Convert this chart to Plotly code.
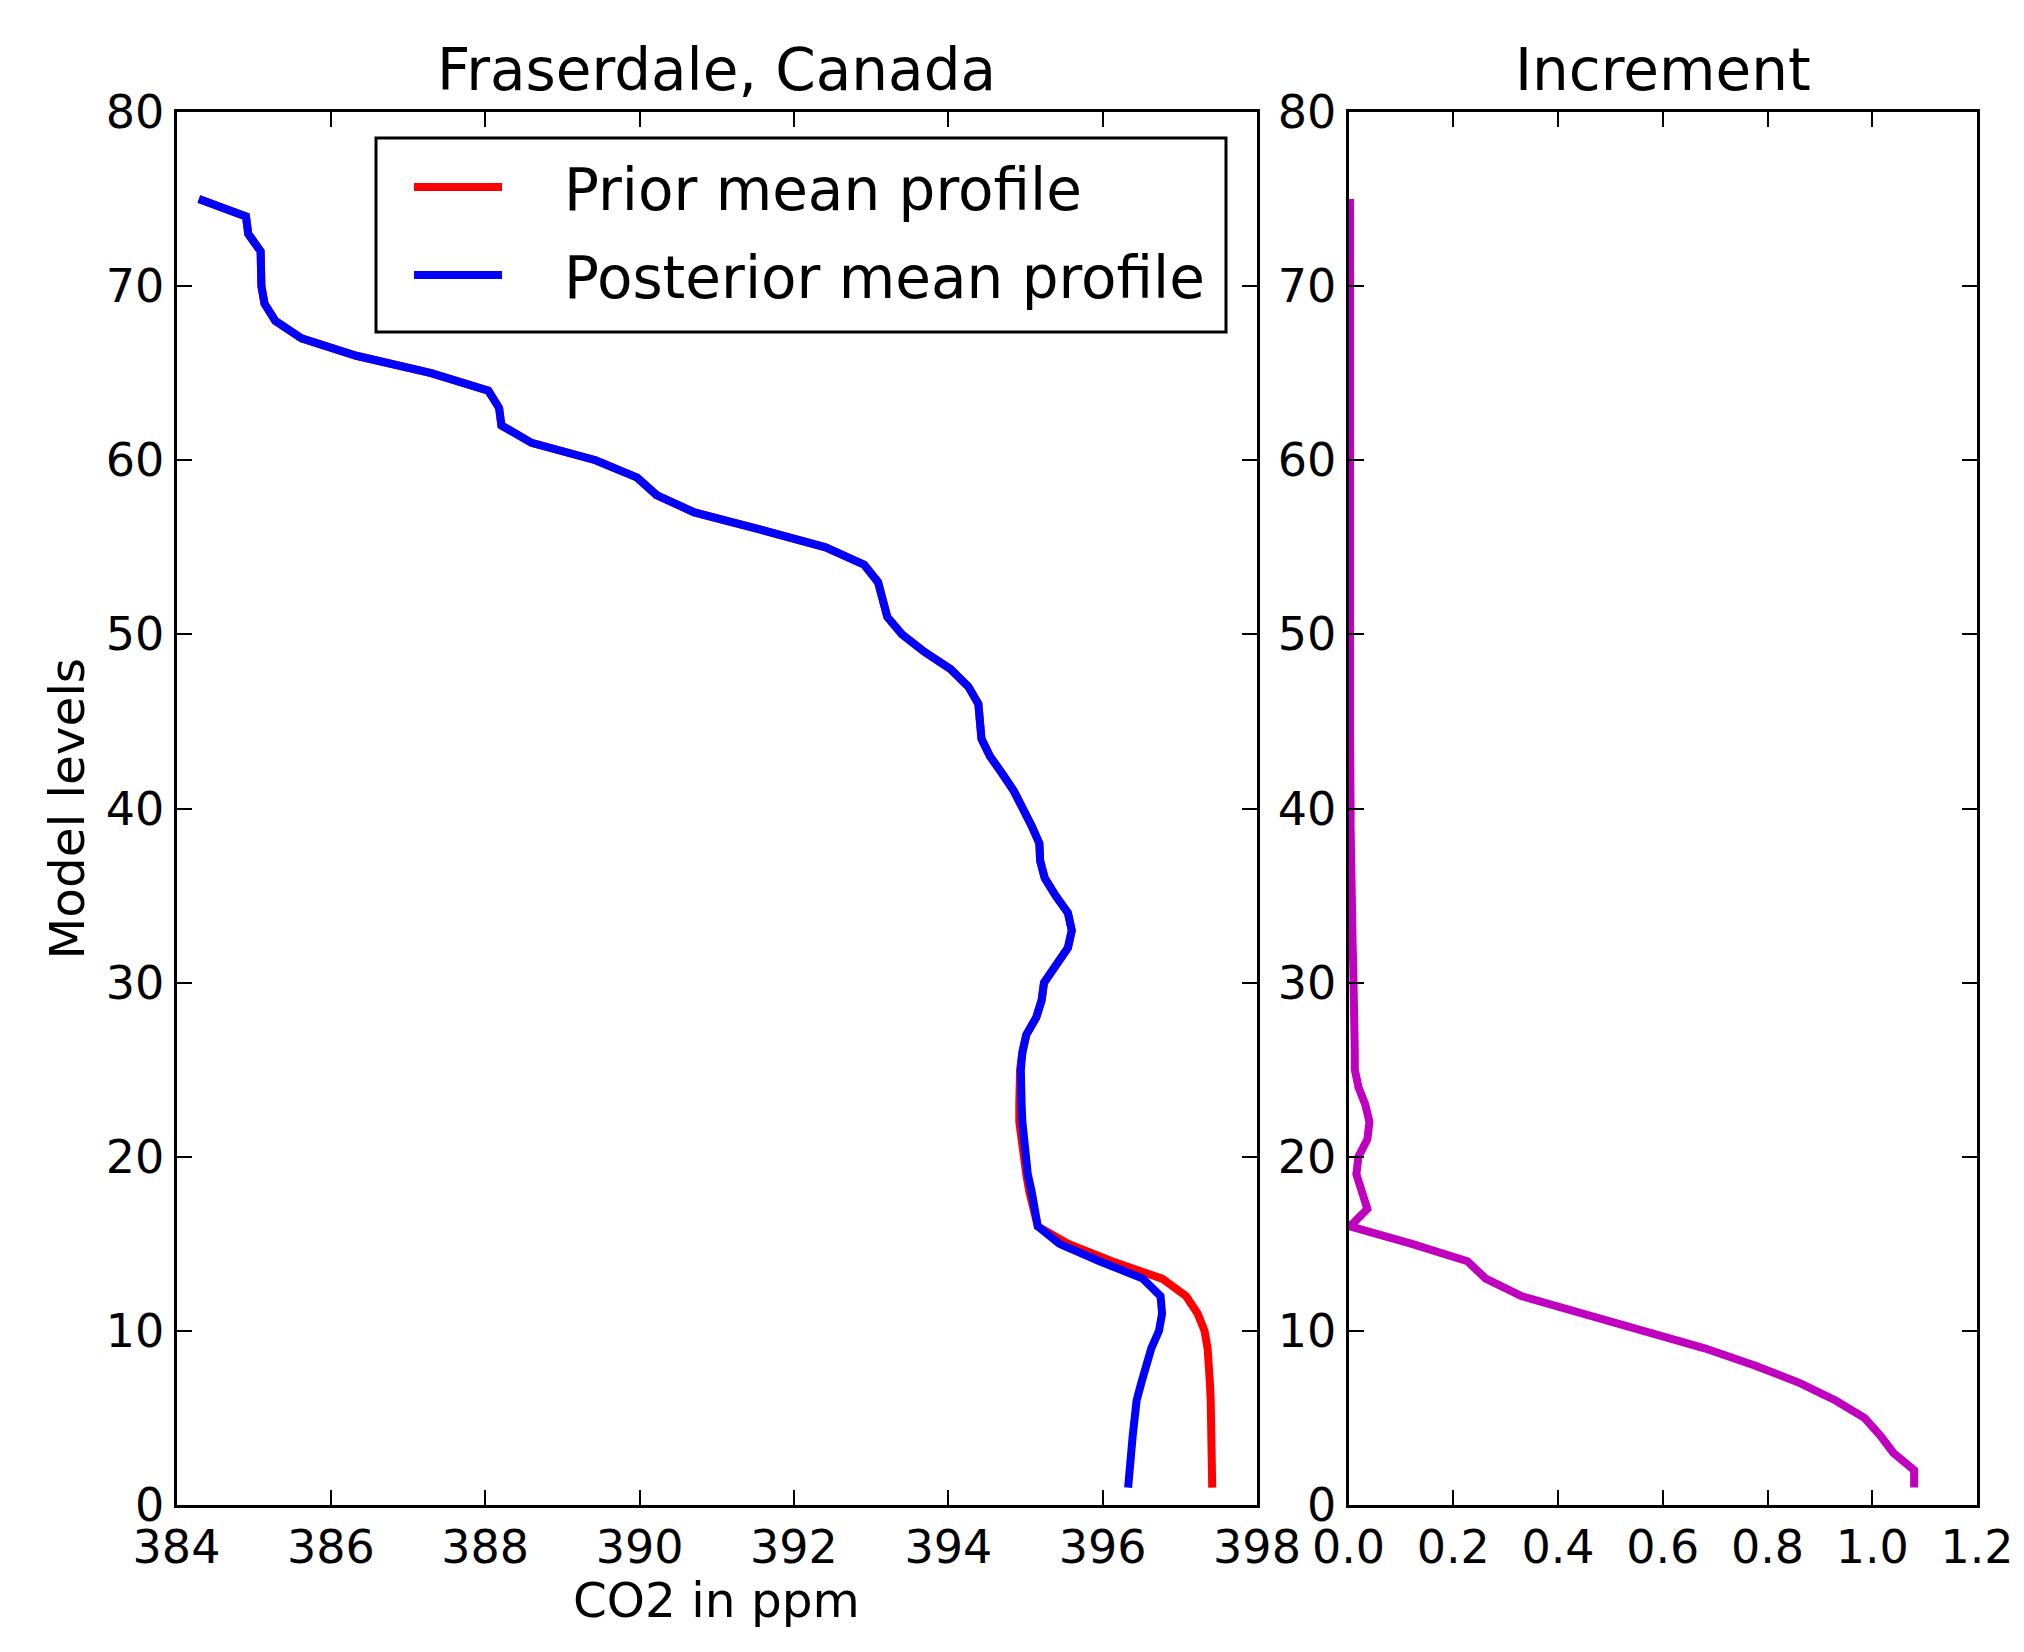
import plotly.graph_objects as go

FONT = "DejaVu Sans"

levels = [1, 2, 3, 4, 5, 6, 7, 8, 9, 10, 11, 12, 13, 14, 15, 16, 17, 18, 19, 20,
          21, 22, 23, 24, 25, 26, 27, 28, 29, 30, 31, 32, 33, 34, 35, 36, 37, 38, 39, 40,
          41, 42, 43, 44, 45, 46, 47, 48, 49, 50, 51, 52, 53, 54, 55, 56, 57, 58, 59, 60,
          61, 62, 63, 64, 65, 66, 67, 68, 69, 70, 71, 72, 73, 74, 75]

posterior = [396.33, 396.34, 396.37, 396.39, 396.41, 396.44, 396.50, 396.57, 396.63, 396.73,
             396.77, 396.75, 396.52, 395.96, 395.44, 395.16, 395.13, 395.08, 395.03, 395.00,
             394.97, 394.96, 394.95, 394.94, 394.94, 394.96, 395.01, 395.14, 395.21, 395.24,
             395.40, 395.55, 395.60, 395.55, 395.39, 395.25, 395.19, 395.18, 395.08, 394.97,
             394.85, 394.70, 394.54, 394.43, 394.40, 394.39, 394.26, 394.03, 393.69, 393.40,
             393.21, 393.14, 393.09, 392.91, 392.41, 391.58, 390.71, 390.22, 389.97, 389.43,
             388.60, 388.21, 388.18, 388.04, 387.30, 386.33, 385.62, 385.28, 385.14, 385.10,
             385.10, 385.09, 384.93, 384.90, 384.29]

prior = [397.42, 397.42, 397.41, 397.41, 397.40, 397.40, 397.39, 397.38, 397.36, 397.32,
         397.23, 397.08, 396.77, 396.12, 395.55, 395.16, 395.10, 395.05, 395.01, 394.98,
         394.93, 394.92, 394.92, 394.92, 394.93, 394.96, 395.01, 395.14, 395.21, 395.24,
         395.40, 395.55, 395.60, 395.55, 395.39, 395.25, 395.19, 395.18, 395.08, 394.97,
         394.85, 394.70, 394.54, 394.43, 394.40, 394.39, 394.26, 394.03, 393.69, 393.40,
         393.21, 393.14, 393.09, 392.91, 392.41, 391.58, 390.71, 390.22, 389.97, 389.43,
         388.60, 388.21, 388.18, 388.04, 387.30, 386.33, 385.62, 385.28, 385.14, 385.10,
         385.10, 385.09, 384.93, 384.90, 384.29]

increment = [1.080, 1.080, 1.040, 1.015, 0.985, 0.930, 0.862, 0.777, 0.680, 0.565,
             0.445, 0.330, 0.262, 0.227, 0.121, 0.003, 0.036, 0.026, 0.015, 0.019,
             0.036, 0.040, 0.032, 0.019, 0.012, 0.012, 0.012, 0.012, 0.011, 0.010,
             0.009, 0.008, 0.007, 0.006, 0.005, 0.004, 0.004, 0.004, 0.004, 0.004,
             0.003, 0.003, 0.003, 0.003, 0.003, 0.003, 0.003, 0.003, 0.003, 0.003,
             0.003, 0.003, 0.003, 0.003, 0.003, 0.003, 0.003, 0.003, 0.003, 0.003,
             0.003, 0.003, 0.003, 0.003, 0.003, 0.003, 0.003, 0.003, 0.003, 0.003,
             0.003, 0.003, 0.003, 0.003, 0.003]

left_xticks = [384, 386, 388, 390, 392, 394, 396, 398]
right_xticks = [0.0, 0.2, 0.4, 0.6, 0.8, 1.0, 1.2]
yticks = [0, 10, 20, 30, 40, 50, 60, 70, 80]
series_names = ["Prior mean profile", "Posterior mean profile"]
series_colors = ["#FF0000", "#0000FF"]

W, H = 2024, 1652
OFF = 8  # page body margin offset

def px(x):
    return (x - OFF) / W

def py(y):
    return (H - (y - OFF)) / H

LW = 8

fig = go.Figure()
fig.add_trace(go.Scatter(x=prior, y=levels, mode="lines", name=series_names[0],
                         line=dict(color=series_colors[0], width=LW), xaxis="x", yaxis="y",
                         showlegend=False))
fig.add_trace(go.Scatter(x=posterior, y=levels, mode="lines", name=series_names[1],
                         line=dict(color=series_colors[1], width=LW), xaxis="x", yaxis="y",
                         showlegend=False))
fig.add_trace(go.Scatter(x=increment, y=levels, mode="lines", name="Increment",
                         line=dict(color="#BF00BF", width=LW), xaxis="x2", yaxis="y2",
                         showlegend=False))

axis_common = dict(showline=True, linewidth=3, linecolor="black", mirror="ticks",
                   ticks="inside", ticklen=15, tickwidth=2, tickcolor="black",
                   showgrid=False, zeroline=False, automargin=False,
                   tickfont=dict(family=FONT, size=46, color="black"))

x1d = [px(176.5), px(1257)]
x2d = [px(1348.5), px(1977)]
yd = [py(1505), py(112)]

fig.update_layout(
    width=W, height=H,
    margin=dict(l=0, r=0, t=0, b=0, pad=0, autoexpand=False),
    paper_bgcolor="white", plot_bgcolor="white",
    xaxis=dict(domain=x1d, range=[384, 398], tickvals=left_xticks,
               ticktext=[str(v) for v in left_xticks], anchor="y", **axis_common),
    yaxis=dict(domain=yd, range=[0, 80], tickvals=yticks,
               ticktext=[str(v) for v in yticks], anchor="x", **axis_common),
    xaxis2=dict(domain=x2d, range=[0, 1.2], tickvals=right_xticks,
                ticktext=["%.1f" % v for v in right_xticks], anchor="y2", **axis_common),
    yaxis2=dict(domain=yd, range=[0, 80], tickvals=yticks,
                ticktext=[str(v) for v in yticks], anchor="x2", **axis_common),
    showlegend=False,
)

ann = []
ann.append(dict(text="Fraserdale, Canada", x=(x1d[0] + x1d[1]) / 2, y=py(70),
                xref="paper", yref="paper", xanchor="center", yanchor="middle",
                showarrow=False, font=dict(family=FONT, size=58, color="black")))
ann.append(dict(text="Increment", x=(x2d[0] + x2d[1]) / 2, y=py(70),
                xref="paper", yref="paper", xanchor="center", yanchor="middle",
                showarrow=False, font=dict(family=FONT, size=58, color="black")))
ann.append(dict(text="CO2 in ppm", x=(x1d[0] + x1d[1]) / 2, y=py(1600),
                xref="paper", yref="paper", xanchor="center", yanchor="middle",
                showarrow=False, font=dict(family=FONT, size=48.5, color="black")))
ann.append(dict(text="Model levels", x=px(66), y=(yd[0] + yd[1]) / 2, textangle=-90,
                xref="paper", yref="paper", xanchor="center", yanchor="middle",
                showarrow=False, font=dict(family=FONT, size=48.5, color="black")))

# legend (drawn manually to match long sample lines)
shapes = [dict(type="rect", xref="paper", yref="paper", x0=px(376), x1=px(1226),
               y0=py(332), y1=py(138), line=dict(color="black", width=3),
               fillcolor="white", layer="above")]
row_y = [187, 275]
for name, color, ry in zip(series_names, series_colors, row_y):
    shapes.append(dict(type="line", xref="paper", yref="paper", x0=px(414), x1=px(502),
                       y0=py(ry), y1=py(ry), line=dict(color=color, width=LW), layer="above"))
    ann.append(dict(text=name, x=px(562), y=py(ry + 3), xref="paper", yref="paper",
                    xanchor="left", yanchor="middle", showarrow=False,
                    font=dict(family=FONT, size=58, color="black")))

fig.update_layout(annotations=ann, shapes=shapes)
fig.write_html("out.html")
